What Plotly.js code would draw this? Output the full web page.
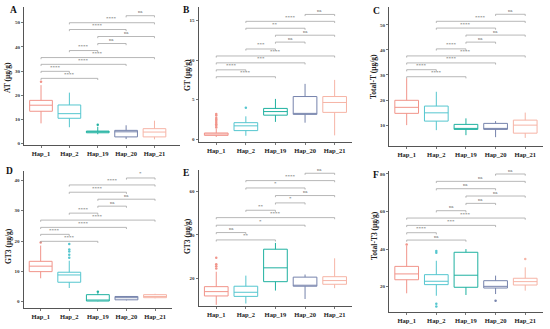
<!DOCTYPE html>
<html><head><meta charset="utf-8">
<script src="https://cdn.plot.ly/plotly-3.0.1.min.js"></script>
<style>html,body{margin:0;padding:0;background:#fff}#chart{width:550px;height:329px}</style>
</head><body><div id="chart"></div>
<script>
const categories = ['Hap_1','Hap_2','Hap_19','Hap_20','Hap_21'];
const colors = ['#F1948A','#55C6CF','#1FB1A0','#7683AC','#F6B4A6'];
const comparisons = [[0,2],[0,1],[0,3],[0,4],[1,2],[2,3],[2,4],[1,3],[1,4],[3,4]];

// Panel A: AT
const A_q1 = [13.4,10.5,4.5,2.8,2.8];
const A_med = [15.9,12.4,5.0,4.9,4.8];
const A_q3 = [17.9,16.0,5.2,5.5,6.2];
const A_lo = [8.4,6.8,3.9,1.9,1.8];
const A_hi = [24.2,21.1,7.0,7.6,9.5];
const A_outCat = ['Hap_1','Hap_19'];
const A_outVal = [25.6,7.8];
const A_brY = [27.0,29.9,32.8,35.6,38.5,41.4,44.3,47.2,50.0,52.9];
const A_brLab = ['****','****','****','****','****','ns','ns','****','****','ns'];

// Panel B: GT
const B_q1 = [0.5,1.1,3.05,3.15,3.4];
const B_med = [0.67,1.7,3.5,3.25,4.65];
const B_q3 = [0.8,2.1,3.9,5.4,5.4];
const B_lo = [0.3,0.45,2.2,2.1,0.5];
const B_hi = [1.3,2.9,5.1,7.0,7.5];
const B_outCat = ['Hap_1','Hap_1','Hap_1','Hap_1','Hap_1','Hap_1','Hap_1','Hap_1','Hap_1','Hap_2'];
const B_outVal = [1.5,1.7,1.9,2.1,2.3,2.5,2.7,3.0,3.2,4.0];
const B_brY = [7.9,8.77,9.65,10.52,11.4,12.27,13.14,14.02,14.89,15.76];
const B_brLab = ['****','****','***','****','***','ns','ns','**','****','ns'];

// Panel C: Total-T
const C_q1 = [14.7,11.6,8.3,8.3,6.8];
const C_med = [17.1,14.9,8.5,8.4,10.0];
const C_q3 = [19.9,17.6,10.3,10.7,12.0];
const C_lo = [10.0,8.0,6.0,5.2,4.9];
const C_hi = [28.7,23.3,12.7,11.6,15.0];
const C_outCat = [];
const C_outVal = [];
const C_brY = [29.3,32.1,34.8,37.6,40.4,43.1,45.9,48.7,51.4,54.2];
const C_brLab = ['****','****','****','****','****','ns','ns','****','****','ns'];

// Panel D: GT3
const D_q1 = [9.9,6.4,0.2,0.6,1.3];
const D_med = [11.7,8.8,0.5,1.3,1.7];
const D_q3 = [13.3,9.7,2.3,1.7,2.3];
const D_lo = [7.7,4.5,0.1,0.4,1.1];
const D_hi = [18.5,13.5,2.8,1.8,2.6];
const D_outCat = ['Hap_1','Hap_2','Hap_2','Hap_2','Hap_2','Hap_2','Hap_19'];
const D_outVal = [19.5,14.5,15.5,16.5,17.2,19.0,3.3];
const D_brY = [19.9,22.2,24.5,26.9,29.2,31.5,33.8,36.1,38.5,40.8];
const D_brLab = ['****','****','****','****','****','ns','ns','****','****','*'];

// Panel E: GT3
const E_q1 = [11.8,11.6,18.4,16.3,17.2];
const E_med = [13.8,13.5,24.8,16.6,18.9];
const E_q3 = [16.1,16.3,33.4,20.5,20.7];
const E_lo = [7.7,8.3,14.3,10.4,15.4];
const E_hi = [23.0,21.2,36.3,21.7,29.2];
const E_outCat = ['Hap_1','Hap_1','Hap_1','Hap_1'];
const E_outVal = [24.5,25.5,26.5,29.4];
const E_brY = [37.7,41.1,44.5,48.0,51.4,54.8,58.2,61.7,65.1,68.5];
const E_brLab = ['**','ns','*','****','**','*','ns','*','****','ns'];

// Panel F: Total-T3
const F_q1 = [23.7,21.1,19.7,19.3,20.9];
const F_med = [26.8,22.9,26.1,20.2,22.7];
const F_q3 = [30.8,26.4,38.3,23.2,24.5];
const F_lo = [16.5,15.2,15.6,16.1,17.9];
const F_hi = [41.8,33.8,40.0,25.9,30.3];
const F_outCat = ['Hap_1','Hap_2','Hap_2','Hap_2','Hap_2','Hap_20','Hap_21'];
const F_outVal = [42.5,38.0,39.0,11.0,9.5,12.6,34.7];
const F_brY = [44.8,48.7,52.6,56.5,60.4,64.3,68.2,72.1,76.0,79.9];
const F_brLab = ['ns','****','***','****','ns','ns','ns','ns','ns','ns'];

const panelTitles = ['AT (μg/g)','GT (μg/g)','Total-T (μg/g)','GT3 (μg/g)','GT3 (μg/g)','Total-T3 (μg/g)'];
const panelLetters = ['A','B','C','D','E','F'];
const yTicks = [[0,10,20,30,40,50],[0,5,10,15],[0,10,20,30,40,50],[0,10,20,30,40],[20,40,60],[20,40,60,80]];

const panels = [
  {q1:A_q1,med:A_med,q3:A_q3,lo:A_lo,hi:A_hi,oc:A_outCat,ov:A_outVal,by:A_brY,bl:A_brLab},
  {q1:B_q1,med:B_med,q3:B_q3,lo:B_lo,hi:B_hi,oc:B_outCat,ov:B_outVal,by:B_brY,bl:B_brLab},
  {q1:C_q1,med:C_med,q3:C_q3,lo:C_lo,hi:C_hi,oc:C_outCat,ov:C_outVal,by:C_brY,bl:C_brLab},
  {q1:D_q1,med:D_med,q3:D_q3,lo:D_lo,hi:D_hi,oc:D_outCat,ov:D_outVal,by:D_brY,bl:D_brLab},
  {q1:E_q1,med:E_med,q3:E_q3,lo:E_lo,hi:E_hi,oc:E_outCat,ov:E_outVal,by:E_brY,bl:E_brLab},
  {q1:F_q1,med:F_med,q3:F_q3,lo:F_lo,hi:F_hi,oc:F_outCat,ov:F_outVal,by:F_brY,bl:F_brLab}
];

// layout geometry (pixels)
const W = 550, H = 329;
const xDomPx = [[24,180],[198.5,352.4],[388.9,543],[23.5,172.2],[198.5,352.4],[388.9,543]];
const xRanges = [[-0.6,4.9],[-0.6,4.6],[-0.6,4.6],[-0.6,4.6],[-0.6,4.6],[-0.6,4.6]];
const yDomPx = [[7,145],[7,141.7],[7,145.7],[171,308],[170,305.7],[171,312.3]];
const yRanges = [[-0.55,56.5],[-0.3,16.7],[1.8,57.1],[-2.1,43.1],[7.3,70],[6.4,81.5]];
const titlePos = [[8,78],[187,75],[373,77],[8,246],[187,236],[374,236]];
const letterPos = [[13,10],[186,10],[376,11],[9,171],[186,173],[376,175]];

const serif = '"Liberation Serif", "DejaVu Serif", serif';
const traces = [];
const layout = {
  width: W, height: H, margin: {l:0,r:0,t:0,b:0},
  paper_bgcolor: '#fff', plot_bgcolor: '#fff', showlegend: false,
  font: {family: serif, color: '#222'},
  annotations: [], boxmode: 'overlay'
};

panels.forEach((p, k) => {
  const n = k === 0 ? '' : String(k + 1);
  const xa = 'x' + n, ya = 'y' + n;
  categories.forEach((c, i) => {
    traces.push({
      type: 'box', x: [c], q1: [p.q1[i]], median: [p.med[i]], q3: [p.q3[i]],
      lowerfence: [p.lo[i]], upperfence: [p.hi[i]], xaxis: xa, yaxis: ya,
      width: 0.8, whiskerwidth: 0, boxpoints: false,
      line: {color: colors[i], width: 1}, fillcolor: 'rgba(255,255,255,0)',
      hoverinfo: 'skip'
    });
  });
  if (p.oc.length) {
    traces.push({
      type: 'scatter', mode: 'markers', x: p.oc, y: p.ov, xaxis: xa, yaxis: ya,
      marker: {size: 2.5, color: p.oc.map(c => colors[categories.indexOf(c)])},
      hoverinfo: 'skip'
    });
  }
  const span = yRanges[k][1] - yRanges[k][0];
  const tl = span * 0.012;
  const bx = [], byy = [];
  comparisons.forEach((cmp, j) => {
    const a = categories[cmp[0]], b = categories[cmp[1]], y = p.by[j];
    bx.push(a, a, b, b, null);
    byy.push(y - tl, y, y, y - tl, null);
    layout.annotations.push({
      xref: xa, yref: ya, x: (cmp[0] + cmp[1]) / 2, y: y,
      text: p.bl[j], showarrow: false, yanchor: 'bottom', yshift: -0.5,
      font: {size: 5, color: '#555', family: serif}
    });
  });
  traces.push({
    type: 'scatter', mode: 'lines', x: bx, y: byy, xaxis: xa, yaxis: ya,
    line: {color: '#9a9a9a', width: 0.7}, connectgaps: false, hoverinfo: 'skip'
  });

  const axCommon = {
    showline: true, linecolor: '#555', linewidth: 1, ticks: 'outside', ticklen: 2,
    tickcolor: '#555', tickwidth: 0.8, showgrid: false, zeroline: false, fixedrange: true
  };
  layout['xaxis' + n] = Object.assign({}, axCommon, {
    domain: [xDomPx[k][0] / W, xDomPx[k][1] / W], anchor: ya,
    type: 'category', categoryorder: 'array', categoryarray: categories,
    range: xRanges[k],
    tickfont: {size: 6.5, family: serif, color: '#222', weight: 'bold'}
  });
  layout['yaxis' + n] = Object.assign({}, axCommon, {
    domain: [1 - yDomPx[k][1] / H, 1 - yDomPx[k][0] / H], anchor: xa,
    range: yRanges[k], tickvals: yTicks[k],
    tickfont: {size: 5, family: serif, color: '#333', weight: 'bold'}
  });
  layout.annotations.push({
    xref: 'paper', yref: 'paper', x: titlePos[k][0] / W, y: 1 - titlePos[k][1] / H,
    text: panelTitles[k], textangle: -90, showarrow: false,
    xanchor: 'center', yanchor: 'middle',
    font: {size: 7.5, family: serif, color: '#222', weight: 'bold'}
  });
  layout.annotations.push({
    xref: 'paper', yref: 'paper', x: letterPos[k][0] / W, y: 1 - letterPos[k][1] / H,
    text: panelLetters[k], showarrow: false, xanchor: 'center', yanchor: 'middle',
    font: {size: 9.5, family: serif, color: '#111', weight: 'bold'}
  });
});

Plotly.newPlot('chart', traces, layout, {staticPlot: true, displayModeBar: false});
</script>
</body></html>
